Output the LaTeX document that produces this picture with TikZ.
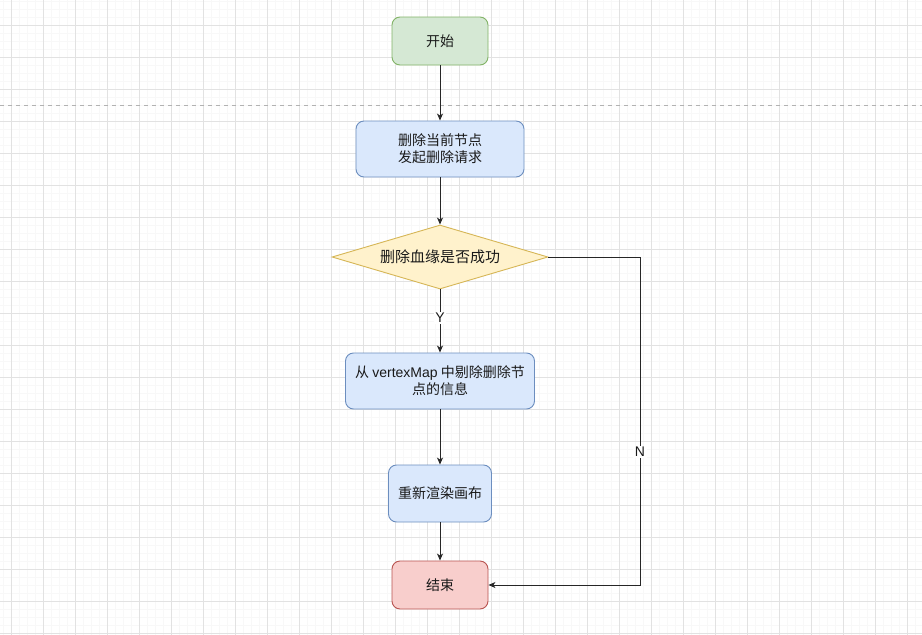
\documentclass[tikz,border=0pt]{standalone}
\usepackage{fontspec}
\setmainfont{Liberation Sans}
\newfontfamily\cjk{Noto Sans CJK SC}
\usetikzlibrary{arrows.meta,shapes.geometric}
\definecolor{gminor}{HTML}{F8F8F8}
\definecolor{gmajor}{HTML}{E2E2E2}
\definecolor{greenfill}{HTML}{D5E8D4}
\definecolor{greenline}{HTML}{82B366}
\definecolor{bluefill}{HTML}{DAE8FC}
\definecolor{blueline}{HTML}{6C8EBF}
\definecolor{yelfill}{HTML}{FFF2CC}
\definecolor{yelline}{HTML}{D6B656}
\definecolor{redfill}{HTML}{F8CECC}
\definecolor{redline}{HTML}{B85450}
\tikzset{
  box/.style={draw, rounded corners=8pt, line width=0.9pt, inner sep=0pt, align=center,
    font=\cjk\fontsize{14pt}{17pt}\selectfont, text=black!90},
  greenbox/.style={box, fill=greenfill, draw=greenline},
  bluebox/.style={box, fill=bluefill, draw=blueline},
  redbox/.style={box, fill=redfill, draw=redline},
  decbox/.style={diamond, shape aspect=4, draw=yelline, fill=yelfill, line width=0.9pt, inner sep=0pt,
    minimum width=216pt, minimum height=64pt, font=\cjk\fontsize{15pt}{18pt}\selectfont, text=black!90},
  conn/.style={draw=black!85, line width=0.9pt, -{Stealth[length=7pt,width=6pt,inset=2pt]}},
  lbl/.style={fill=white, inner sep=1.5pt, font=\fontsize{14pt}{16pt}\selectfont, text=black!90}
}
\begin{document}
\begin{tikzpicture}[x=1pt,y=-1pt]
\useasboundingbox (0,0) rectangle (922,635);
\fill[white] (0,0) rectangle (922,635);
% minor grid
\foreach \i in {0,...,115} {\draw[gminor, line width=0.6pt] ({3+8*\i},0) -- ({3+8*\i},635);}
\foreach \i in {0,...,79} {\draw[gminor, line width=0.6pt] (0,{1+8*\i}) -- (922,{1+8*\i});}
% major grid
\foreach \i in {0,...,28} {\draw[gmajor, line width=0.8pt] ({11+32*\i},0) -- ({11+32*\i},635);}
\foreach \i in {0,...,19} {\draw[gmajor, line width=0.8pt] (0,{25+32*\i}) -- (922,{25+32*\i});}
% dashed separator
\draw[black!30, line width=0.8pt, dash pattern=on 4pt off 4pt] (0,105) -- (922,105);

\node[greenbox, minimum width=96pt, minimum height=48pt] (start) at (440,41) {开始};
\node[bluebox, minimum width=168pt, minimum height=56pt] (del) at (440,149) {删除当前节点\\发起删除请求};
\node[decbox] (dec) at (440,257) {删除血缘是否成功};
\node[bluebox, minimum width=189pt, minimum height=56pt] (rm) at (440,381) {从 {\fontspec{Liberation Sans}vertexMap} 中剔除删除节\\点的信息};
\node[bluebox, minimum width=103pt, minimum height=57pt] (render) at (440,493.5) {重新渲染画布};
\node[redbox, minimum width=96pt, minimum height=48pt] (end) at (440,585) {结束};

\coordinate (c1) at (640,257);
\coordinate (c2) at (640,585);

\draw[conn] (start) -- (del);
\draw[conn] (del) -- (dec);
\draw[conn] (dec) -- node[lbl, pos=0.45] {Y} (rm);
\draw[conn] (rm) -- (render);
\draw[conn] (render) -- (end);
\draw[conn] (dec.east) -- (c1) -- node[lbl, pos=0.595] {N} (c2) -- (end.east);
\end{tikzpicture}
\end{document}
